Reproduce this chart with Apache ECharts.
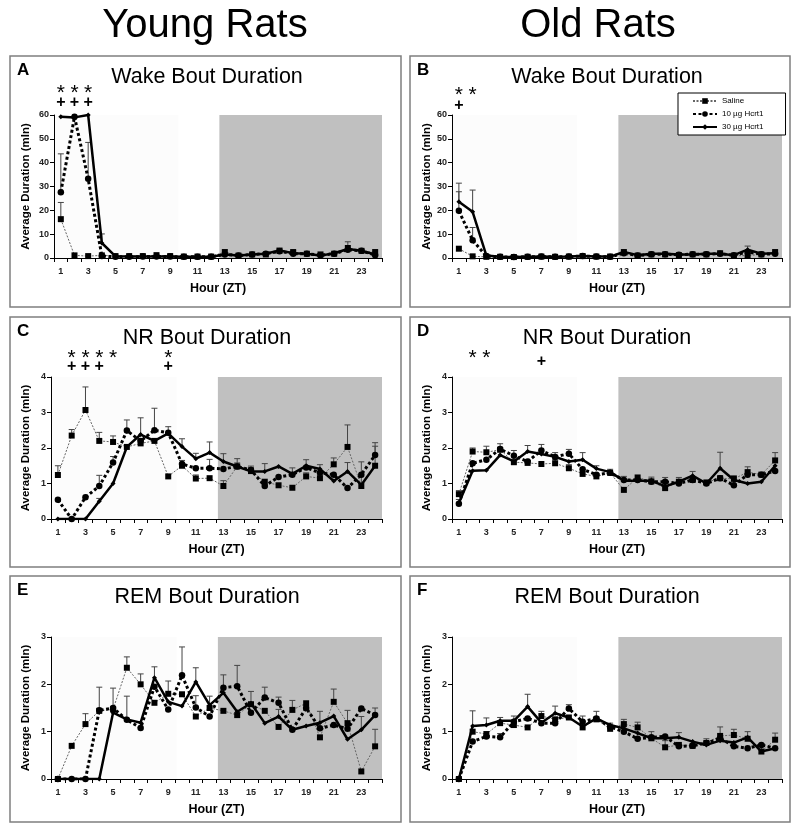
<!DOCTYPE html>
<html><head><meta charset="utf-8">
<script src="https://cdn.jsdelivr.net/npm/echarts@6/dist/echarts.min.js"></script>
<style>html,body{margin:0;padding:0;background:#fff}#c{width:792px;height:825px}</style>
</head><body><div id="c"></div>
<script>
// ---------------- DATA ----------------
const hours = ['1','2','3','4','5','6','7','8','9','10','11','12','13','14','15','16','17','18','19','20','21','22','23','24'];
const seriesNames = ['Saline','10 µg Hcrt1','30 µg Hcrt1'];
const darkPeriod = [12.6, 24.5];
const lightPeriod = [0.5, 9.6];

// Panel A: Young rats, Wake bout duration (min)
const A_sal = [16.3,1.1,0.8,1.1,0.8,0.8,0.8,1.2,0.8,0.6,0.6,0.6,2.5,1.0,1.5,1.5,3.0,2.5,1.8,1.5,1.8,4.2,3.0,2.5];
const A_10  = [27.6,59.3,33.2,0.8,0.5,0.5,0.6,0.6,0.6,0.5,0.5,0.5,1.5,1.0,1.5,1.8,2.8,1.8,1.8,1.2,1.8,3.5,3.0,1.2];
const A_30  = [59.3,59.0,60.0,6.3,0.7,0.6,0.6,0.6,0.6,0.5,0.5,0.5,1.5,1.0,1.5,1.8,3.2,2.0,1.8,1.0,2.0,3.8,3.0,1.5];
const A_sal_err = [7.0,0,0,0,0,0,0,0,0,0,0,0,0,0,0,0,0,0,0,0,0,0,0,0];
const A_10_err  = [16.1,0,15.3,0,0,0,0,0,0,0,0,0,0,0,0,0,0,0,0,0,0,0,0,0];
const A_30_err  = [0,0,0,3.8,0,0,0,0,0,0,0,0,0,0,0,0,1.0,1.0,0,0,0,3.0,0,0];
const A_stars = [1,2,3];
const A_plus  = [1,2,3];

// Panel B: Old rats, Wake bout duration (min)
const B_sal = [3.9,0.7,0.5,0.5,0.4,0.5,0.6,0.5,0.6,0.8,0.6,0.6,2.5,1.0,1.5,1.5,1.2,1.5,1.5,2.0,1.0,1.0,1.5,2.5];
const B_10  = [19.8,7.4,0.8,0.5,0.4,0.5,0.6,0.5,0.6,0.8,0.6,0.5,2.0,1.0,1.6,1.6,1.4,1.6,1.6,1.8,1.2,2.5,1.6,1.8];
const B_30  = [23.6,19.4,1.0,0.5,0.4,0.5,0.6,0.5,0.6,0.8,0.6,0.6,2.5,1.2,1.8,1.8,1.5,1.5,1.8,1.8,1.2,3.5,1.8,2.0];
const B_sal_err = [0,0,0,0,0,0,0,0,0,0,0,0,0,0,0,0,0,0,0,0,0,0,0,0];
const B_10_err  = [8.0,5.4,0,0,0,0,0,0,0,0,0,0,0,0,0,0,0,0,0,0,0,0,0,0];
const B_30_err  = [7.8,9.1,0,0,0,0,0,0,0,0,0,0,0,0,0,0,0,0,0,0,0,1.5,0,0];
const B_stars = [1,2];
const B_plus  = [1];

// Panel C: Young rats, NR bout duration (min)
const C_sal = [1.24,2.35,3.07,2.2,2.17,2.03,2.13,2.2,1.2,1.5,1.14,1.15,0.93,1.48,1.35,1.05,0.95,0.88,1.2,1.15,1.54,2.03,0.93,1.5];
const C_10  = [0.54,0.0,0.61,0.93,1.59,2.49,2.2,2.5,2.43,1.55,1.43,1.43,1.41,1.48,1.38,0.93,1.18,1.25,1.45,1.3,1.25,0.87,1.25,1.8];
const C_30  = [0,0,0,0.5,1.0,2.03,2.38,2.2,2.41,2.04,1.7,1.87,1.62,1.48,1.34,1.34,1.48,1.27,1.5,1.41,1.07,1.34,0.96,1.5];
const C_sal_err = [0.26,0.17,0.65,0.24,0.17,0,0.1,0,0,0,0.1,0,0.15,0.1,0.1,0,0,0,0.1,0,0.18,0.62,0,0];
const C_10_err  = [0,0,0,0.3,0.17,0.3,0,0.62,0.17,0.1,0,0.25,0,0,0,0,0,0,0,0,0,0,0,0.25];
const C_30_err  = [0,0,0,0.08,0,0,0.47,0,0,0.22,0.15,0.3,0.22,0.22,0.15,0.22,0,0.17,0.17,0.12,0,0.25,0.65,0.65];
const C_stars = [2,3,4,5,9];
const C_plus  = [2,3,4,9];

// Panel D: Old rats, NR bout duration (min)
const D_sal = [0.7,1.9,1.88,1.95,1.6,1.58,1.55,1.57,1.43,1.27,1.2,1.3,0.82,1.17,1.06,0.87,1.05,1.1,1.03,1.15,1.13,1.32,1.25,1.65];
const D_10  = [0.43,1.57,1.67,1.97,1.78,1.62,1.93,1.75,1.84,1.4,1.25,1.3,1.1,1.1,1.05,1.05,1.0,1.1,1.0,1.15,0.95,1.25,1.25,1.35];
const D_30  = [0.45,1.36,1.37,1.8,1.62,1.9,1.83,1.75,1.62,1.67,1.42,1.32,1.08,1.08,1.08,0.92,1.05,1.22,1.0,1.43,1.1,1.0,1.05,1.5];
const D_sal_err = [0.1,0.1,0.17,0,0,0,0,0.1,0.1,0,0,0.1,0,0,0,0,0,0,0,0,0,0.15,0,0.22];
const D_10_err  = [0,0,0,0.15,0.15,0,0.17,0,0.12,0,0,0,0,0,0,0.12,0,0,0,0,0,0,0,0];
const D_30_err  = [0.1,0,0,0,0,0.17,0,0.12,0,0.2,0.08,0,0.12,0,0.1,0.14,0.12,0.12,0,0.45,0.12,0,0,0];
const D_stars = [2,3];
const D_plus  = [7];

// Panel E: Young rats, REM bout duration (min)
const E_sal = [0,0.7,1.16,1.44,1.47,2.35,2.0,1.61,1.8,1.79,1.32,1.5,1.44,1.35,1.58,1.44,1.1,1.46,1.6,0.88,1.63,1.18,0.16,0.69];
const E_10  = [0,0,0,1.45,1.5,1.25,1.08,1.95,1.47,2.19,1.51,1.32,1.93,1.96,1.4,1.72,1.61,1.04,1.5,1.07,1.14,1.06,1.49,1.35];
const E_30  = [0,0,0,0,1.4,1.26,1.19,2.14,1.63,1.54,2.05,1.56,1.82,1.42,1.6,1.18,1.32,1.04,1.12,1.19,1.33,0.84,1.04,1.35];
const E_sal_err = [0,0,0.22,0.5,0.45,0.23,0.22,0,0.27,0,0,0.25,0,0,0,0,0,0.2,0,0,0.27,0.27,0,0.36];
const E_10_err  = [0,0,0,0,0,0.5,0,0,0,0.6,0.25,0,0.27,0.44,0,0.22,0.12,0,0,0,0,0,0,0];
const E_30_err  = [0,0,0,0,0,0,0,0.23,0,0,0.3,0,0,0,0.25,0,0.15,0,0,0.24,0,0,0.28,0.15];
const E_stars = [];
const E_plus  = [];

// Panel F: Old rats, REM bout duration (min)
const F_sal = [0,1.0,0.95,1.18,1.14,1.09,1.33,1.26,1.3,1.09,1.26,1.06,1.16,1.09,0.86,0.67,0.72,0.7,0.76,0.91,0.93,0.85,0.58,0.83];
const F_10  = [0,0.79,0.9,0.88,1.21,1.28,1.18,1.18,1.49,1.21,1.28,1.1,1.0,0.85,0.88,0.9,0.69,0.7,0.76,0.86,0.69,0.65,0.72,0.65];
const F_30  = [0,1.12,1.14,1.23,1.23,1.53,1.19,1.39,1.3,1.11,1.28,1.14,1.07,0.97,0.86,0.86,0.88,0.79,0.72,0.81,0.77,0.88,0.58,0.65];
const F_sal_err = [0,0,0,0,0,0,0.1,0,0,0,0,0.12,0.1,0.11,0.14,0.14,0,0,0.09,0.19,0.12,0,0.17,0.14];
const F_10_err  = [0,0,0,0.08,0,0,0,0,0.08,0.12,0,0,0,0,0,0,0,0,0,0,0,0,0,0];
const F_30_err  = [0,0.32,0.15,0.07,0.1,0.26,0,0.15,0,0,0.15,0,0,0,0,0,0.1,0,0,0,0,0.12,0,0];
const F_stars = [];
const F_plus  = [];

// ---------------- LAYOUT / STYLE ----------------
const FONT = '"Liberation Sans", Arial, sans-serif';
const panels = [
  {letter:'A', title:'Wake Bout Duration', box:[10,56,391,251], grid:{left:54,top:115,width:328,height:143}, yMax:60, yInt:10, nameGap:22,
   vals:[A_sal,A_10,A_30], errs:[A_sal_err,A_10_err,A_30_err], stars:A_stars, plus:A_plus, starDy:-27, plusDy:-12},
  {letter:'B', title:'Wake Bout Duration', box:[410,56,380,251], grid:{left:452,top:115,width:330,height:143}, yMax:60, yInt:10, nameGap:19,
   vals:[B_sal,B_10,B_30], errs:[B_sal_err,B_10_err,B_30_err], stars:B_stars, plus:B_plus, starDy:-25, plusDy:-9},
  {letter:'C', title:'NR Bout Duration', box:[10,317,391,250], grid:{left:51,top:377,width:331,height:142}, yMax:4, yInt:1, nameGap:19,
   vals:[C_sal,C_10,C_30], errs:[C_sal_err,C_10_err,C_30_err], stars:C_stars, plus:C_plus, starDy:-24, plusDy:-10},
  {letter:'D', title:'NR Bout Duration', box:[410,317,380,250], grid:{left:452,top:377,width:330,height:142}, yMax:4, yInt:1, nameGap:19,
   vals:[D_sal,D_10,D_30], errs:[D_sal_err,D_10_err,D_30_err], stars:D_stars, plus:D_plus, starDy:-24, plusDy:-15},
  {letter:'E', title:'REM Bout Duration', box:[10,576,391,246], grid:{left:51,top:637,width:331,height:142}, yMax:3, yInt:1, nameGap:19,
   vals:[E_sal,E_10,E_30], errs:[E_sal_err,E_10_err,E_30_err], stars:E_stars, plus:E_plus, starDy:-24, plusDy:-10},
  {letter:'F', title:'REM Bout Duration', box:[410,576,380,246], grid:{left:452,top:637,width:330,height:142}, yMax:3, yInt:1, nameGap:19,
   vals:[F_sal,F_10,F_30], errs:[F_sal_err,F_10_err,F_30_err], stars:F_stars, plus:F_plus, starDy:-24, plusDy:-10}
];

const lineStyles = [
  {symbol:'rect', symbolSize:6, lineStyle:{color:'#666', width:1, type:[2,1.5]}, itemStyle:{color:'#000'}},
  {symbol:'circle', symbolSize:6.5, lineStyle:{color:'#000', width:3, type:[3,2.5]}, itemStyle:{color:'#000'}},
  {symbol:'diamond', symbolSize:5, lineStyle:{color:'#000', width:2.5, type:'solid'}, itemStyle:{color:'#000'}}
];

const grids = [], xAxes = [], yAxes = [], series = [], graphics = [];

graphics.push({type:'text', x:205, y:26, style:{text:'Young Rats', font:'40px '+FONT, fill:'#000', textAlign:'center', textVerticalAlign:'middle'}});
graphics.push({type:'text', x:598, y:26, style:{text:'Old Rats', font:'40px '+FONT, fill:'#000', textAlign:'center', textVerticalAlign:'middle'}});

panels.forEach((p, i) => {
  const [bx, by, bw, bh] = p.box;
  graphics.push({type:'rect', z:-1, shape:{x:bx, y:by, width:bw, height:bh}, style:{fill:'none', stroke:'#7f7f7f', lineWidth:1.5}});
  graphics.push({type:'text', x:bx+7, y:by+14, style:{text:p.letter, font:'bold 17px '+FONT, fill:'#000', textAlign:'left', textVerticalAlign:'middle'}});
  graphics.push({type:'text', x:bx+197, y:by+21, style:{text:p.title, font:'21.5px '+FONT, fill:'#000', textAlign:'center', textVerticalAlign:'middle'}});

  grids.push(Object.assign({containLabel:false}, p.grid));
  const yMax = p.yMax;
  xAxes.push({
    gridIndex:i, type:'category', data:hours, boundaryGap:true, z:5, position:'bottom',
    axisLine:{lineStyle:{color:'#000', width:1}},
    axisTick:{show:true, interval:0, alignWithLabel:false, length:4, lineStyle:{color:'#000'}},
    axisLabel:{interval:1, margin:9, fontSize:9, fontWeight:'bold', color:'#222', fontFamily:FONT},
    name:'Hour (ZT)', nameLocation:'middle', nameGap:24,
    nameTextStyle:{fontSize:12.5, fontWeight:'bold', color:'#000', fontFamily:FONT},
    splitLine:{show:false}
  });
  xAxes.push({gridIndex:i, type:'value', min:0.5, max:24.5, show:false, position:'top'});
  yAxes.push({
    gridIndex:i, type:'value', min:0, max:yMax, interval:p.yInt, z:5,
    axisLine:{show:true, lineStyle:{color:'#000', width:1}},
    axisTick:{show:true, length:4, lineStyle:{color:'#000'}},
    axisLabel:{margin:5, fontSize:9, fontWeight:'bold', color:'#222', fontFamily:FONT},
    splitLine:{show:false},
    name:'Average Duration (mIn)', nameLocation:'middle', nameGap:p.nameGap, nameRotate:90,
    nameTextStyle:{fontSize:11.5, fontWeight:'bold', color:'#000', fontFamily:FONT}
  });
  const xi = 2*i+1;
  // background periods
  series.push({
    type:'custom', name:'bg'+i, xAxisIndex:xi, yAxisIndex:i, z:1, silent:true,
    data:[[lightPeriod[0], lightPeriod[1], 0],[darkPeriod[0], darkPeriod[1], 1]],
    renderItem:(params, api) => {
      const a = api.coord([api.value(0), yMax]);
      const b = api.coord([api.value(1), 0]);
      return {type:'rect', shape:{x:a[0], y:a[1], width:b[0]-a[0], height:b[1]-a[1]},
              style:{fill: api.value(2) ? '#c0c0c0' : '#fcfcfc'}};
    }
  });
  // error bars
  p.errs.forEach((errArr, s) => {
    series.push({
      type:'custom', name:'err'+i+'_'+s, xAxisIndex:xi, yAxisIndex:i, z:2, silent:true,
      data: errArr.map((e, k) => [k+1, p.vals[s][k], e]),
      renderItem:(params, api) => {
        const e = api.value(2);
        if (!e) return null;
        const x = api.value(0), v = api.value(1);
        const p0 = api.coord([x, v]), p1 = api.coord([x, v+e]);
        return {type:'group', children:[
          {type:'line', shape:{x1:p0[0], y1:p0[1], x2:p1[0], y2:p1[1]}, style:{stroke:'#444', lineWidth:1}},
          {type:'line', shape:{x1:p1[0]-3, y1:p1[1], x2:p1[0]+3, y2:p1[1]}, style:{stroke:'#444', lineWidth:1}}
        ]};
      }
    });
  });
  // data lines
  p.vals.forEach((arr, s) => {
    series.push(Object.assign({
      type:'line', name:seriesNames[s], xAxisIndex:xi, yAxisIndex:i, z:3 + (s===2?1:0),
      data: arr.map((v, k) => [k+1, v]), animation:false, silent:true
    }, JSON.parse(JSON.stringify(lineStyles[s]))));
  });
  // significance markers
  const mark = (arr, ch, font, dy, nm) => series.push({
    type:'custom', name:nm, xAxisIndex:xi, yAxisIndex:i, z:5, silent:true, clip:false,
    data: arr.map(h => [h, yMax]),
    renderItem:(params, api) => {
      const c = api.coord([api.value(0), api.value(1)]);
      return {type:'text', x:c[0], y:c[1]+dy, style:{text:ch, font:font, fill:'#000', textAlign:'center', textVerticalAlign:'middle'}};
    }
  });
  mark(p.stars, '*', '21px '+FONT, p.starDy+5, 'stars'+i);
  mark(p.plus, '+', 'bold 16px '+FONT, p.plusDy, 'plus'+i);
});

const chart = echarts.init(document.getElementById('c'), null, {renderer:'canvas'});
chart.setOption({
  animation:false,
  backgroundColor:'#fff',
  textStyle:{fontFamily:FONT},
  grid:grids, xAxis:xAxes, yAxis:yAxes, series:series,
  legend:{
    data:seriesNames, orient:'vertical', left:678, top:93,
    itemWidth:24, itemHeight:7, itemGap:5, padding:[4,22,4,14],
    borderColor:'#000', borderWidth:1, backgroundColor:'#fff',
    textStyle:{fontSize:8, color:'#000', fontFamily:FONT}, selectedMode:false
  },
  graphic:graphics
});
</script></body></html>
